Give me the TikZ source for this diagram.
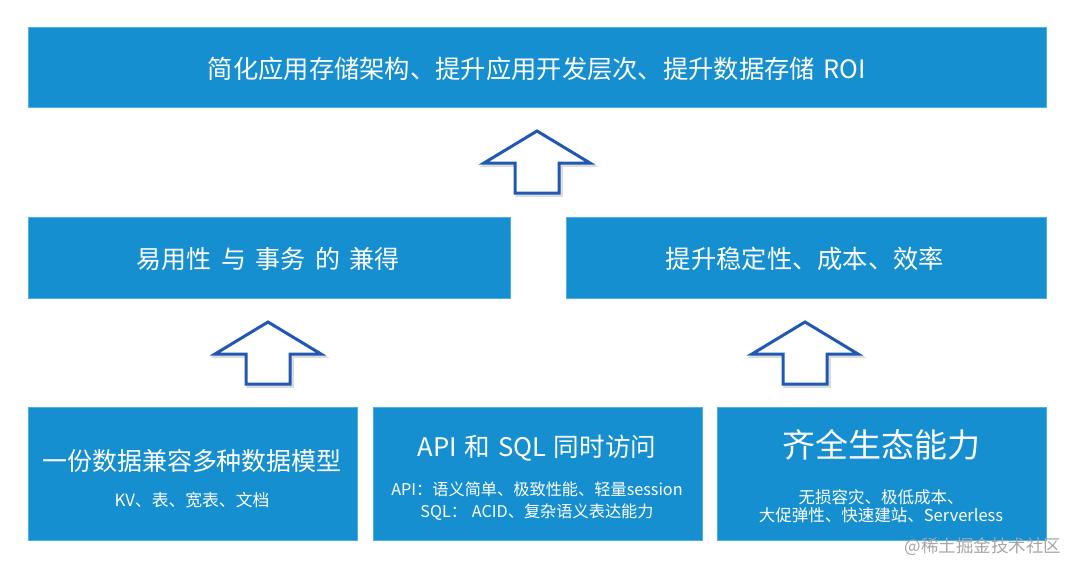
\documentclass[tikz,border=0pt]{standalone}
\usepackage{fontspec}
\setmainfont{Noto Sans CJK SC}
\usetikzlibrary{positioning}

\definecolor{boxblue}{RGB}{22,143,208}
\definecolor{boxedge}{RGB}{80,175,228}
\definecolor{arrowblue}{RGB}{32,88,178}

\begin{document}
\begin{tikzpicture}[x=1pt,y=-1pt,
  layer/.style={draw=boxedge, line width=0.8pt, fill=boxblue, text=white, inner sep=0pt, anchor=north west},
  title/.style={text=white, inner sep=0pt, font=\fontsize{25}{30}\selectfont},
  detail/.style={text=white, inner sep=0pt, align=center},
  uparrow/.style={draw=arrowblue, fill=white, line width=3pt},
  upshadow/.style={draw=black!45, line width=3.5pt, opacity=0.3}]
  \useasboundingbox (0,0) rectangle (1080,574);
  % Objetivo
  \node[layer, minimum width=1018pt, minimum height=80pt] (goal) at (28,27) {};
  \node[title, font=\fontsize{25.3}{30}\selectfont] (goaltext) at (537,69) {简化应用存储架构、提升应用开发层次、提升数据存储\hspace{0.35em}ROI};
  % Camada intermediaria
  \node[layer, minimum width=482pt, minimum height=81pt] (ease) at (28,217) {};
  \node[title] (easetext) at (268,259) {易用性\hspace{0.38em}与\hspace{0.38em}事务\hspace{0.38em}的\hspace{0.38em}兼得};
  \node[layer, minimum width=480pt, minimum height=81pt] (gain) at (566,217) {};
  \node[title, font=\fontsize{25.3}{30}\selectfont] (gaintext) at (805,259) {提升稳定性、成本、效率};
  % Base
  \node[layer, minimum width=329pt, minimum height=133pt] (model) at (28,407) {};
  \node[title] (modeltext) at (192,461) {一份数据兼容多种数据模型};
  \node[detail, font=\fontsize{16.8}{20}\selectfont] (modeldetail) at (192,500) {KV、表、宽表、文档};
  \node[layer, minimum width=329pt, minimum height=133pt] (access) at (373,407) {};
  \node[title, font=\fontsize{25.6}{30}\selectfont] (accesstext) at (537,448) {API\hspace{0.3em}和\hspace{0.3em}SQL\hspace{0.3em}同时访问};
  \node[detail, font=\fontsize{16.2}{21.7}\selectfont] (accessdetail) at (537,501) {API：语义简单、极致性能、轻量session\\SQL：\hspace{0.3em}ACID、复杂语义表达能力};
  \node[layer, minimum width=329pt, minimum height=133pt] (eco) at (717,407) {};
  \node[title, font=\fontsize{33}{38}\selectfont] (ecotext) at (881,445) {齐全生态能力};
  \node[detail, font=\fontsize{16.5}{17.5}\selectfont] (ecodetail) at (881,506) {无损容灾、极低成本、\\大促弹性、快速建站、Serverless};
  % Setas
  \foreach \cx/\ty in {537/131, 268/322, 805/322} {
    \draw[upshadow] (\cx+2,\ty+2) -- ++(53,32) -- ++(-31,0) -- ++(0,30) -- ++(-44,0) -- ++(0,-30) -- ++(-31,0) -- cycle;
    \draw[uparrow] (\cx,\ty) -- ++(53,32) -- ++(-31,0) -- ++(0,30) -- ++(-44,0) -- ++(0,-30) -- ++(-31,0) -- cycle;
  }
  % Marca
  \node[text=black!35, inner sep=0pt, font=\fontsize{17.5}{20}\selectfont] (mark) at (983,547) {@稀土掘金技术社区};
\end{tikzpicture}
\end{document}
